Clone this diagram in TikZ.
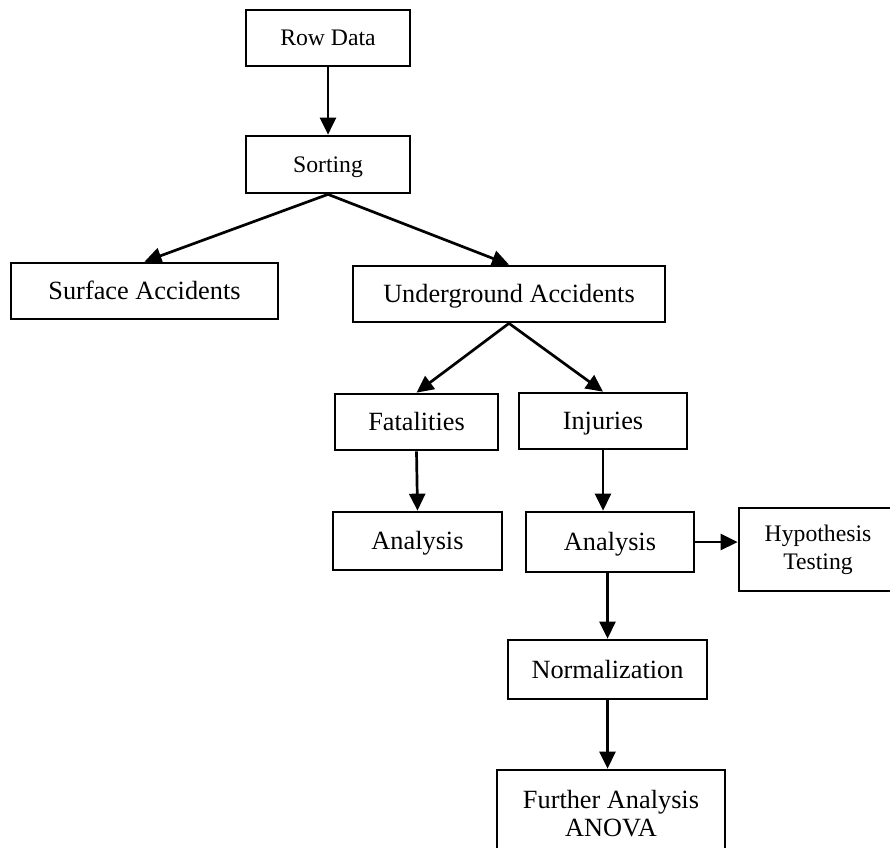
\documentclass[tikz,border=0pt]{standalone}
\usepackage{fontspec}
\setmainfont{Liberation Serif}
\usepackage{tikz}
\usetikzlibrary{arrows.meta}
\tikzstyle{arrow} = [line width=2.7pt,-{Triangle[length=17pt,width=16pt]}]
\tikzstyle{block} = [draw,line width=2.7pt,align=center,inner sep=0pt,font=\fontsize{26.3}{28}\selectfont,text height=17.4pt,text depth=0pt]
\tikzstyle{smallblock} = [block,font=\fontsize{23.7}{28}\selectfont,text height=15.7pt]
\tikzstyle{twoline} = [text height=,text depth=]

\begin{document}
\begin{tikzpicture}[x=1pt,y=-1pt]
	%page in pixels, y going down
	\useasboundingbox (0,0) rectangle (890,847);
	\clip (0,0) rectangle (890,847);
	
	\node[smallblock,minimum width=164pt,minimum height=56pt] (raw) at (328,38) {Row Data};
	\node[smallblock,minimum width=164pt,minimum height=57pt] (sort) at (328,164.5) {Sorting};
	\node[block,minimum width=267pt,minimum height=56pt] (surf) at (144.5,291) {Surface Accidents};
	\node[block,minimum width=312pt,minimum height=56pt] (under) at (509,294) {Underground Accidents};
	\node[block,minimum width=163pt,minimum height=56pt] (fatal) at (416.5,422) {Fatalities};
	\node[block,minimum width=168pt,minimum height=56pt] (inj) at (603,421) {Injuries};
	\node[block,minimum width=169pt,minimum height=58pt] (anaF) at (417.5,541) {Analysis};
	\node[block,minimum width=168pt,minimum height=60pt] (anaI) at (610,542) {Analysis};
	\node[smallblock,twoline,minimum width=158pt,minimum height=83pt] (hyp) at (818,549.5) {Hypothesis\\Testing};
	\node[block,minimum width=199pt,minimum height=59pt] (norm) at (607.5,669.5) {Normalization};
	\node[block,twoline,minimum width=228pt,minimum height=88pt] (further) at (611,814) {Further Analysis\\ANOVA};
	
	\draw[arrow] (raw.south) -- (sort.north);
	\draw[arrow] (sort.south) -- (surf.north);
	\draw[arrow] (sort.south) -- (under.north);
	\draw[arrow] (under.south) -- (fatal.north);
	\draw[arrow] (under.south) -- (inj.north);
	\draw[arrow] (fatal.south) -- (anaF.north);
	\draw[arrow] (inj.south) -- (inj.south |- anaI.north);
	\draw[arrow] (anaI.east) -- (anaI.east -| hyp.west);
	\draw[arrow] (norm.north |- anaI.south) -- (norm.north);
	\draw[arrow] (norm.south) -- (norm.south |- further.north);
	
\end{tikzpicture}
\end{document}
